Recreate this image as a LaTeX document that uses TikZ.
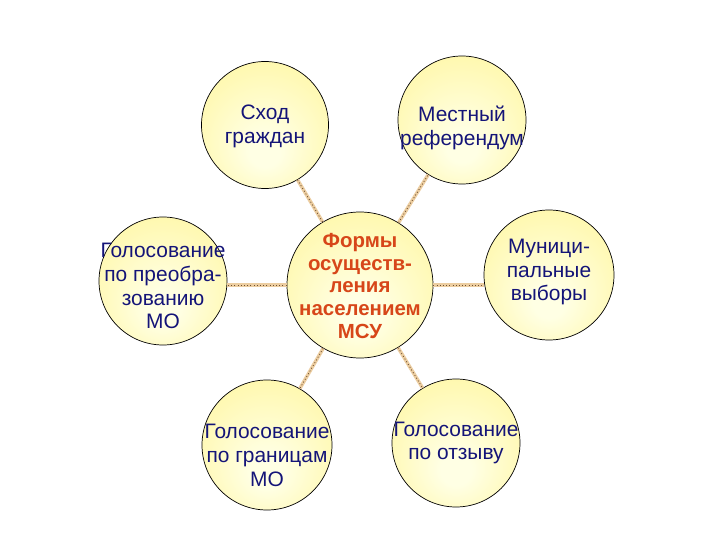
\documentclass[tikz,border=0pt]{standalone}
\usepackage{fontspec}
\setmainfont{Liberation Sans}
\definecolor{ballin}{RGB}{255,255,228}
\definecolor{ballout}{RGB}{255,243,135}
\definecolor{navytxt}{RGB}{20,20,120}
\definecolor{redtxt}{RGB}{215,70,25}
\definecolor{conntan}{RGB}{236,205,160}
\definecolor{conndot}{RGB}{110,80,50}
\pgfdeclareradialshading{ball}{\pgfpoint{0bp}{-12bp}}{color(0bp)=(ballin); color(6bp)=(ballin); color(48bp)=(ballout)}
\tikzset{
  ballnode/.style={circle, draw=black, line width=0.7bp, shading=ball, inner sep=0pt, minimum size=#1},
  txt/.style={align=center, text=navytxt, font=\fontsize{21}{24}\selectfont},
  ctxt/.style={align=center, text=redtxt, font=\bfseries\fontsize{20.5}{23}\selectfont},
  conn/.style={line width=0.8bp, draw=conndot, dash pattern=on 1bp off 2.2bp,
    preaction={draw=conntan, line width=3.5bp, solid}}
}
\begin{document}
\begin{tikzpicture}[x=1bp,y=-1bp]
\useasboundingbox[fill=white] (0,0) rectangle (720,540);
\node[ballnode=146bp] (c) at (360,285) {};
\node[ballnode=127bp] (tl) at (265,125) {};
\node[ballnode=128bp] (tr) at (462,120) {};
\node[ballnode=128bp] (l) at (163,281) {};
\node[ballnode=130bp] (r) at (549,275) {};
\node[ballnode=130bp] (bl) at (267,445) {};
\node[ballnode=128bp] (br) at (456,443) {};
\draw[conn] (c) -- (tl);
\draw[conn] (c) -- (tr);
\draw[conn] (c.west) -- (l.east |- c.west);
\draw[conn] (c.east) -- (r.west |- c.east);
\draw[conn] (c) -- (bl);
\draw[conn] (c) -- (br);
\node[ctxt] at (360,286) {Формы\\осуществ-\\ления\\населением\\МСУ};
\node[txt] at (265,126) {Сход\\граждан};
\node[txt] at (462,128) {Местный\\референдум};
\node[txt] at (163,286) {Голосование\\по преобра-\\зованию\\МО};
\node[txt] at (549,272) {Муници-\\пальные\\выборы};
\node[txt] at (267,455) {Голосование\\по границам\\МО};
\node[txt] at (456,443) {Голосование\\по отзыву};
\end{tikzpicture}
\end{document}
